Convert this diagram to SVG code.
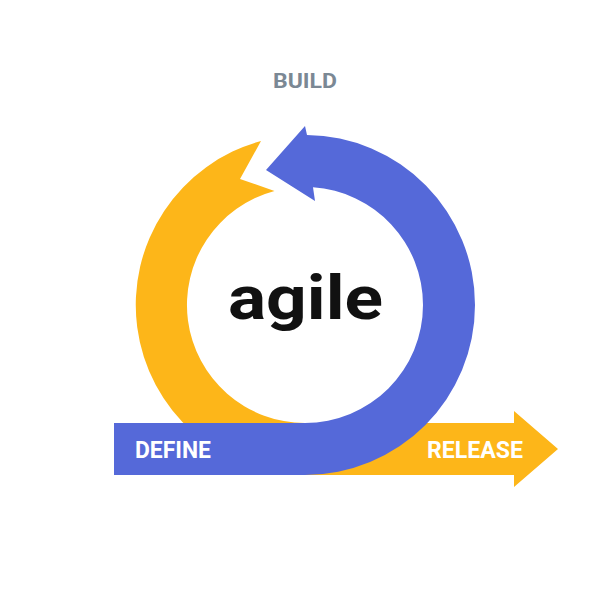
<svg xmlns="http://www.w3.org/2000/svg" width="612" height="612" viewBox="0 0 612 612">
<style>
.lbl{font-family:Roboto,"Liberation Sans",Arial,sans-serif;font-weight:700}
.blue{fill:#5569D9}
.yellow{fill:#FDB619}
</style>
<rect width="612" height="612" fill="#ffffff"/>
<g id="connectors">
<path id="yellow-arrow" class="yellow" d="M 261 141 L 240 179 L 274.5 191 A 118 118 0 0 0 305 423 L 514 423 L 514 411 L 558 449 L 514 487 L 514 475 L 305 475 A 170 170 0 0 1 261 141 Z"/>
<path id="blue-arrow" class="blue" d="M 114 423 L 305 423 A 118 118 0 0 0 423 305 A 118 118 0 0 0 313 187.3 L 315 201 L 266 170 L 305 126 L 307 135 A 170 170 0 0 1 475 305 A 170 170 0 0 1 305 475 L 114 475 Z"/>
</g>
<g id="node-build"><text class="lbl" x="273" y="88" font-size="21" fill="#7B8894" textLength="64" lengthAdjust="spacingAndGlyphs">BUILD</text></g>
<g id="node-agile"><text class="lbl" x="228" y="319" font-size="61" fill="#111111" textLength="155" lengthAdjust="spacingAndGlyphs">agile</text></g>
<g id="node-define"><text class="lbl" x="135" y="458" font-size="24" fill="#ffffff" textLength="76" lengthAdjust="spacingAndGlyphs">DEFINE</text></g>
<g id="node-release"><text class="lbl" x="427" y="458" font-size="24" fill="#ffffff" textLength="96" lengthAdjust="spacingAndGlyphs">RELEASE</text></g>
</svg>
